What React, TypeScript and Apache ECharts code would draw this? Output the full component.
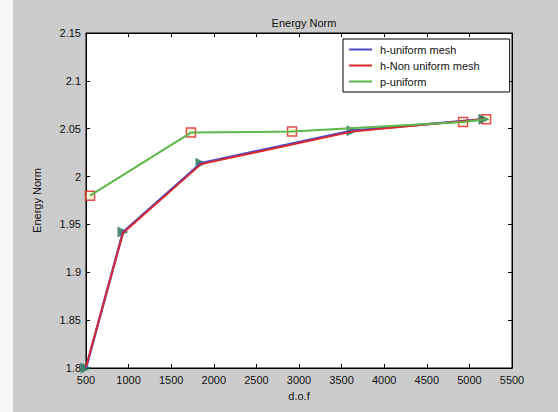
import React, { useEffect, useRef } from "react";
import * as echarts from "echarts";

const dofH = [500, 934, 1850, 3623, 5170];
const energyHUniform = [1.8, 1.942, 2.014, 2.048, 2.06];
const energyHNonUniform = [1.801, 1.941, 2.013, 2.047, 2.06];
const dofP = [547, 1732, 2918, 4926, 5196];
const energyP = [1.98, 2.046, 2.047, 2.057, 2.06];
const seriesNames = ["h-uniform mesh", "h-Non uniform mesh", "p-uniform"];

const FONT = "Liberation Sans, Arial, sans-serif";

export default function App() {
  const ref = useRef<HTMLDivElement>(null);
  useEffect(() => {
    if (!ref.current) return;
    const chart = echarts.init(ref.current, null, { renderer: "svg" });
    const zip = (xs: number[], ys: number[]) => xs.map((x, i) => [x, ys[i]]);
    const fmtY = (v: number) => String(+v.toFixed(2));
    const fmtX = (v: number) => String(Math.round(v));
    chart.setOption({
      animation: false,
      backgroundColor: "#cccccc",
      textStyle: { fontFamily: FONT },
      title: {
        text: "Energy Norm",
        left: 299,
        top: 12,
        textAlign: "center",
        textStyle: { fontSize: 11, fontWeight: "normal", color: "#111", fontFamily: FONT },
      },
      graphic: [
        { type: "rect", left: 0, top: 0, shape: { width: 13, height: 412 }, style: { fill: "#f6f6f6" }, silent: true },
      ],
      legend: {
        orient: "vertical",
        left: 343,
        top: 39,
        backgroundColor: "#ffffff",
        borderColor: "#000",
        borderWidth: 1,
        padding: [4, 30, 4, 6],
        itemWidth: 23,
        itemHeight: 2,
        itemGap: 3,
        icon: "rect",
        data: seriesNames,
        textStyle: { fontSize: 11, color: "#111", fontFamily: FONT, padding: [0, 0, 0, 3], lineHeight: 13 },
      },
      grid: {
        left: 86,
        top: 33,
        width: 426,
        height: 335,
        show: true,
        backgroundColor: "#ffffff",
        borderColor: "#000",
        borderWidth: 1,
      },
      xAxis: [
        {
          type: "value",
          min: 500,
          max: 5500,
          interval: 500,
          name: "d.o.f",
          nameLocation: "middle",
          nameGap: 22,
          nameTextStyle: { fontSize: 11, color: "#111", fontFamily: FONT },
          axisLine: { lineStyle: { color: "#000" } },
          axisTick: { inside: true, length: 4, lineStyle: { color: "#000" } },
          axisLabel: { fontSize: 11, color: "#111", margin: 6, fontFamily: FONT, formatter: fmtX },
          splitLine: { show: false },
        },
        {
          type: "value",
          position: "top",
          min: 500,
          max: 5500,
          interval: 500,
          axisLine: { lineStyle: { color: "#000" } },
          axisTick: { inside: true, length: 4, lineStyle: { color: "#000" } },
          axisLabel: { show: false },
          splitLine: { show: false },
        },
      ],
      yAxis: [
        {
          type: "value",
          min: 1.8,
          max: 2.15,
          interval: 0.05,
          name: "Energy Norm",
          nameLocation: "middle",
          nameRotate: 90,
          nameGap: 44,
          nameTextStyle: { fontSize: 11, color: "#111", fontFamily: FONT },
          axisLine: { lineStyle: { color: "#000" } },
          axisTick: { inside: true, length: 4, lineStyle: { color: "#000" } },
          axisLabel: { fontSize: 11, color: "#111", margin: 5, formatter: fmtY, fontFamily: FONT },
          splitLine: { show: false },
        },
        {
          type: "value",
          position: "right",
          min: 1.8,
          max: 2.15,
          interval: 0.05,
          axisLine: { lineStyle: { color: "#000" } },
          axisTick: { inside: true, length: 4, lineStyle: { color: "#000" } },
          axisLabel: { show: false },
          splitLine: { show: false },
        },
      ],
      series: [
        {
          name: seriesNames[0],
          type: "line",
          data: zip(dofH, energyHUniform),
          showSymbol: false,
          lineStyle: { color: "#4a4ac8", width: 2.5 },
          itemStyle: { color: "#4a4ac8" },
        },
        {
          name: seriesNames[1],
          type: "line",
          data: zip(dofH, energyHNonUniform),
          showSymbol: false,
          lineStyle: { color: "#e02828", width: 1.8 },
          itemStyle: { color: "#e02828" },
        },
        {
          name: seriesNames[2],
          type: "line",
          data: zip(dofP, energyP),
          showSymbol: false,
          lineStyle: { color: "#5cb84a", width: 2 },
          itemStyle: { color: "#5cb84a" },
        },
        {
          name: "p markers",
          type: "scatter",
          data: zip(dofP, energyP),
          symbol: "rect",
          symbolSize: 9,
          itemStyle: { color: "rgba(240,240,190,0.7)", borderColor: "#e02020", borderWidth: 1.5 },
        },
        {
          name: "h markers",
          type: "scatter",
          data: zip(dofH, energyHUniform),
          symbol: "triangle",
          symbolRotate: -90,
          symbolSize: 11,
          itemStyle: { color: "#1e6e50" },
        },
      ],
    });
    return () => chart.dispose();
  }, []);
  return (
    <div
      ref={ref}
      style={{ position: "fixed", left: 0, top: 0, width: 558, height: 412 }}
    />
  );
}
